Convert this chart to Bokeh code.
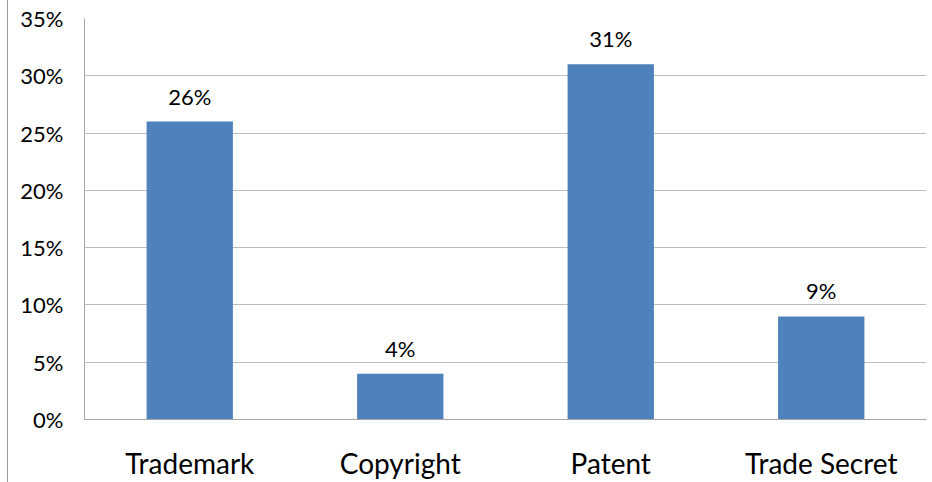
from bokeh.plotting import figure
from bokeh.models import ColumnDataSource, NumeralTickFormatter, FixedTicker, LabelSet
from bokeh.core.properties import value
from bokeh.embed import file_html
from bokeh.resources import INLINE

categories = ["Trademark", "Copyright", "Patent", "Trade Secret"]
shares = [0.26, 0.04, 0.31, 0.09]
labels = ["26%", "4%", "31%", "9%"]
y_ticks = [0.0, 0.05, 0.10, 0.15, 0.20, 0.25, 0.30, 0.35]

FONT = "Lato"

src = ColumnDataSource(dict(cat=categories, val=shares, lab=labels))

p = figure(
    x_range=categories, y_range=(0, 0.35),
    width=924, height=482,
    output_backend="svg", toolbar_location=None,
    min_border_left=76, min_border_right=6, min_border_top=18, min_border_bottom=63,
    styles={"margin-left": "7px", "border-left": "1px solid #9a9a9a"},
)
p.outline_line_color = None
p.background_fill_color = "white"
p.border_fill_color = "white"

p.vbar(x="cat", top="val", width=0.41, source=src, fill_color="#4f81bd", line_color=None)

p.add_layout(LabelSet(x="cat", y="val", text="lab", source=src, text_align="center",
                      text_baseline="alphabetic", y_offset=17, text_font=value(FONT),
                      text_font_size="22px", text_color="#000000"))

p.yaxis.ticker = FixedTicker(ticks=y_ticks)
p.yaxis.formatter = NumeralTickFormatter(format="0%")
p.yaxis.major_tick_line_color = None
p.yaxis.minor_tick_line_color = None
p.yaxis.major_tick_out = 0
p.yaxis.major_label_standoff = 21
p.yaxis.axis_line_color = "#a6a6a6"
p.yaxis.major_label_text_font = FONT
p.yaxis.major_label_text_font_size = "22px"
p.yaxis.major_label_text_color = "#000000"

p.xaxis.major_tick_line_color = None
p.xaxis.major_tick_out = 0
p.xaxis.axis_line_color = "#a6a6a6"
p.xaxis.major_label_standoff = 26
p.xaxis.major_label_text_font = FONT
p.xaxis.major_label_text_font_size = "28px"
p.xaxis.major_label_text_color = "#000000"

p.xgrid.grid_line_color = None
p.ygrid.grid_line_color = "#bdbdbd"
p.ygrid.grid_line_width = 1

open("out.html", "w").write(file_html(p, INLINE))
